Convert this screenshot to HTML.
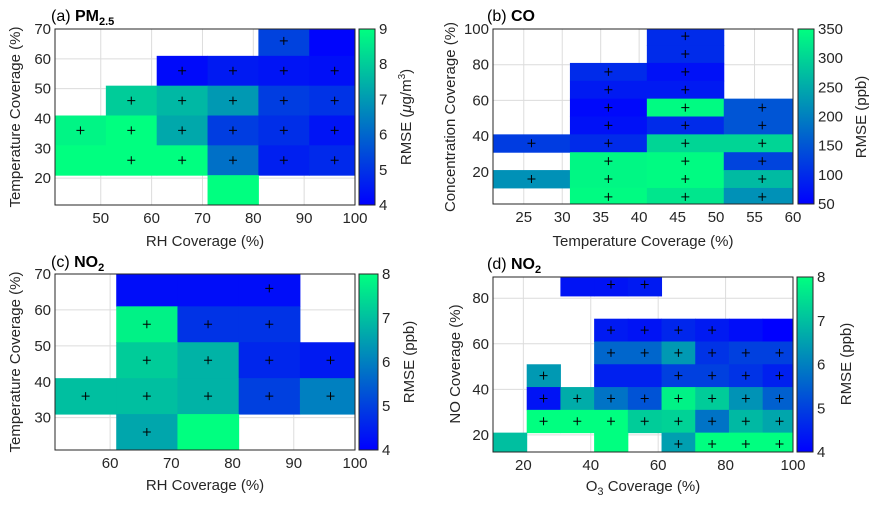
<!DOCTYPE html>
<html><head><meta charset="utf-8">
<style>
html,body{margin:0;padding:0;background:#fff;}
svg{display:block;font-family:"Liberation Sans",sans-serif;}
</style></head>
<body>
<svg id="fig" width="879" height="507" viewBox="0 0 879 507" xmlns="http://www.w3.org/2000/svg"></svg>
<script>
// ---- Panel (a) PM2.5 data ----
const aX = [86,96, 66,76,86,96, 56,66,76,86,96, 46,56,66,76,86,96, 46,56,66,76,86,96, 76];
const aY = [66,66, 56,56,56,56, 46,46,46,46,46, 36,36,36,36,36,36, 26,26,26,26,26,26, 16];
const aV = [5.3,4.1, 4.2,4.5,4.4,4.3, 8.0,7.6,7.0,5.2,5.0, 8.8,9.0,7.3,5.2,4.9,4.4, 9.0,9.0,9.0,6.2,4.6,4.8, 9.0];
const aPlus = [1,0, 1,1,1,1, 1,1,1,1,1, 1,1,1,1,1,1, 0,1,1,1,1,1, 0];
const aXTicks = [50,60,70,80,90,100];
const aYTicks = [20,30,40,50,60,70];
const aCTicks = [4,5,6,7,8,9];
// ---- Panel (b) CO data ----
const bX = [26,26, 36,36,36,36,36,36,36,36, 46,46,46,46,46,46,46,46,46,46, 56,56,56,56,56,56];
const bY = [36,16, 76,66,56,46,36,26,16,6, 96,86,76,66,56,46,36,26,16,6, 56,46,36,26,16,6];
const bV = [120,220, 100,80,60,70,100,340,340,345, 100,100,70,80,345,100,300,345,345,320, 150,150,300,130,270,220];
const bPlus = [1,1, 1,1,1,1,1,1,1,1, 1,1,1,1,1,1,1,1,1,1, 1,1,1,1,1,1];
const bXTicks = [25,30,35,40,45,50,55,60];
const bYTicks = [20,40,60,80,100];
const bCTicks = [50,100,150,200,250,300,350];
// ---- Panel (c) NO2 data ----
const cX = [66,76,86, 66,76,86, 66,76,86,96, 56,66,76,86,96, 66,76];
const cY = [66,66,66, 56,56,56, 46,46,46,46, 36,36,36,36,36, 26,26];
const cV = [4.2,4.2,4.2, 7.8,4.8,4.8, 7.2,6.8,4.6,4.4, 7.0,7.0,6.8,5.0,6.0, 6.6,8.0];
const cPlus = [0,0,1, 1,1,1, 1,1,1,1, 1,1,1,1,1, 1,0];
const cXTicks = [60,70,80,90,100];
const cYTicks = [30,40,50,60,70];
const cCTicks = [4,5,6,7,8];
// ---- Panel (d) NO2 data ----
const dX = [36,46,56, 46,56,66,76,86,96, 46,56,66,76,86,96, 26,46,56,66,76,86,96, 26,36,46,56,66,76,86,96, 26,36,46,56,66,76,86,96, 16,46,66,76,86,96];
const dY = [86,86,86, 66,66,66,66,66,66, 56,56,56,56,56,56, 46,46,46,46,46,46,46, 36,36,36,36,36,36,36,36, 26,26,26,26,26,26,26,26, 16,16,16,16,16,16];
const dV = [4.3,4.3,4.4, 4.4,4.3,4.6,4.4,4.2,4.0, 5.6,5.6,6.4,4.8,5.0,5.0, 6.4,4.5,4.5,5.0,5.0,4.8,4.5, 4.3,6.7,5.8,5.3,7.8,7.2,6.3,5.5, 8.0,8.0,8.0,7.2,7.3,5.8,6.9,6.6, 7.0,8.0,6.5,8.0,8.0,8.0];
const dPlus = [0,1,1, 1,1,1,1,0,0, 1,1,1,1,1,1, 1,0,0,1,1,1,1, 1,1,1,1,1,1,1,1, 1,1,1,1,1,1,1,1, 0,0,1,1,1,1];
const dXTicks = [20,40,60,80,100];
const dYTicks = [20,40,60,80];
const dCTicks = [4,5,6,7,8];

const NS = "http://www.w3.org/2000/svg";
const svg = document.getElementById('fig');
function mk(tag, attrs, parent){
  const e = document.createElementNS(NS, tag);
  for (const k in attrs) e.setAttribute(k, attrs[k]);
  (parent||svg).appendChild(e);
  return e;
}
function cmap(t){
  t = Math.max(0, Math.min(1, t));
  return `rgb(0,${Math.round(255*t)},${Math.round(255-127*t)})`;
}
function panel(p){
  const g = mk('g', {});
  
  
  const sx = v => p.x0 + (v - p.xmin) / (p.xmax - p.xmin) * (p.x1 - p.x0);
  const sy = v => p.y1 - (v - p.ymin) / (p.ymax - p.ymin) * (p.y1 - p.y0);
  p.xt.forEach(t => {
    const l = mk('line', {x1:sx(t), x2:sx(t), y1:p.y0, y2:p.y1, stroke:'#dcdcdc', 'stroke-width':1}, g);
    
    
  });
  p.yt.forEach(t => {
    const l = mk('line', {x1:p.x0, x2:p.x1, y1:sy(t), y2:sy(t), stroke:'#dcdcdc', 'stroke-width':1}, g);
    
    
  });
  for (let i = 0; i < p.X.length; i++){
    const xa = Math.max(p.xmin, p.X[i] - 5), xb = Math.min(p.xmax, p.X[i] + 5);
    const ya = Math.max(p.ymin, p.Y[i] - 5), yb = Math.min(p.ymax, p.Y[i] + 5);
    const r = mk('rect', {x:sx(xa), y:sy(yb), width:sx(xb)-sx(xa)+0.5, height:sy(ya)-sy(yb)+0.5,
      fill:cmap((p.V[i]-p.cmin)/(p.cmax-p.cmin))}, g);
    
    
  }
  for (let i = 0; i < p.X.length; i++){
    if (!p.P[i]) continue;
    const cx = sx(p.X[i]), cy = sy(p.Y[i]);
    const m = mk('path', {d:`M${cx-4},${cy}H${cx+4}M${cx},${cy-4}V${cy+4}`, stroke:'#000', 'stroke-width':1}, g);
    
    
  }
  const bx = mk('rect', {x:p.x0, y:p.y0, width:p.x1-p.x0, height:p.y1-p.y0, fill:'none', stroke:'#262626', 'stroke-width':1}, g);
  
  
  p.xt.forEach(t => {
    const tx = mk('text', {x:sx(t), y:p.y1+18, 'text-anchor':'middle', 'font-size':15, fill:'#262626'}, g);
    tx.textContent = t;
    
    
  });
  p.yt.forEach(t => {
    const ty = mk('text', {x:p.x0-4, y:sy(t)+5, 'text-anchor':'end', 'font-size':15, fill:'#262626'}, g);
    ty.textContent = t;
    
    
  });
  const gid = 'grad-' + p.name;
  const defs = mk('defs', {}, g);
  const lg = mk('linearGradient', {id:gid, x1:0, y1:1, x2:0, y2:0}, defs);
  mk('stop', {offset:0, 'stop-color':cmap(0)}, lg);
  mk('stop', {offset:1, 'stop-color':cmap(1)}, lg);
  const cb = mk('rect', {x:p.cbx, y:p.y0, width:p.cbw, height:p.y1-p.y0, fill:`url(#${gid})`, stroke:'#262626', 'stroke-width':1}, g);
  
  
  p.ct.forEach(t => {
    const y = p.y1 - (t - p.cmin) / (p.cmax - p.cmin) * (p.y1 - p.y0);
    const ct = mk('text', {x:p.cbx+p.cbw+4, y:y+5, 'font-size':15, fill:'#262626'}, g);
    ct.textContent = t;
    
    
  });
}
panel({name:'panel-a-pm25', X:aX, Y:aY, V:aV, P:aPlus, xt:aXTicks, yt:aYTicks, ct:aCTicks,
  x0:55, x1:355, y0:29, y1:205, xmin:41, xmax:100, ymin:11, ymax:70, cmin:4, cmax:9, cbx:359, cbw:16});
panel({name:'panel-b-co', X:bX, Y:bY, V:bV, P:bPlus, xt:bXTicks, yt:bYTicks, ct:bCTicks,
  x0:493, x1:793, y0:29, y1:204, xmin:21, xmax:60, ymin:2, ymax:100, cmin:50, cmax:350, cbx:798, cbw:16});
panel({name:'panel-c-no2', X:cX, Y:cY, V:cV, P:cPlus, xt:cXTicks, yt:cYTicks, ct:cCTicks,
  x0:55, x1:355, y0:274, y1:450, xmin:51, xmax:100, ymin:21, ymax:70, cmin:4, cmax:8, cbx:359, cbw:19});
panel({name:'panel-d-no2', X:dX, Y:dY, V:dV, P:dPlus, xt:dXTicks, yt:dYTicks, ct:dCTicks,
  x0:493, x1:793, y0:277, y1:452, xmin:11, xmax:100, ymin:12.5, ymax:89.3, cmin:4, cmax:8, cbx:797, cbw:16});
</script>
<script>
(function(){
  const NS = "http://www.w3.org/2000/svg";
  const svg = document.getElementById('fig');
  function txt(html, attrs, name){
    const t = document.createElementNS(NS, 'text');
    for (const k in attrs) t.setAttribute(k, attrs[k]);
    t.innerHTML = html;
    
    
    svg.appendChild(t);
  }
  const lab = {'font-size':15, fill:'#262626', 'text-anchor':'middle'};
  txt('(a) <tspan font-weight="bold">PM</tspan><tspan font-weight="bold" font-size="11" dy="4">2.5</tspan>', {x:51, y:21, 'font-size':16, fill:'#000'}, 'panel-a-title');
  txt('(b) <tspan font-weight="bold">CO</tspan>', {x:487, y:21, 'font-size':16, fill:'#000'}, 'panel-b-title');
  txt('(c) <tspan font-weight="bold">NO</tspan><tspan font-weight="bold" font-size="11" dy="4">2</tspan>', {x:51, y:267, 'font-size':16, fill:'#000'}, 'panel-c-title');
  txt('(d) <tspan font-weight="bold">NO</tspan><tspan font-weight="bold" font-size="11" dy="4">2</tspan>', {x:487, y:269, 'font-size':16, fill:'#000'}, 'panel-d-title');
  txt('RH Coverage (%)', Object.assign({x:205, y:246}, lab), 'x-axis-title');
  txt('Temperature Coverage (%)', Object.assign({x:643, y:246}, lab), 'x-axis-title');
  txt('RH Coverage (%)', Object.assign({x:205, y:490}, lab), 'x-axis-title');
  txt('O<tspan font-size="11" dy="4">3</tspan><tspan dy="-4"> Coverage (%)</tspan>', Object.assign({x:643, y:491}, lab), 'x-axis-title');
  txt('Temperature Coverage (%)', Object.assign({x:0, y:0, transform:'translate(20,117) rotate(-90)'}, lab), 'y-axis-title');
  txt('Concentration Coverage (%)', Object.assign({x:0, y:0, transform:'translate(455,117) rotate(-90)'}, lab), 'y-axis-title');
  txt('Temperature Coverage (%)', Object.assign({x:0, y:0, transform:'translate(20,362) rotate(-90)'}, lab), 'y-axis-title');
  txt('NO Coverage (%)', Object.assign({x:0, y:0, transform:'translate(460,364) rotate(-90)'}, lab), 'y-axis-title');
  txt('RMSE (<tspan font-style="italic">μ</tspan>g/m<tspan font-size="10" dy="-6">3</tspan><tspan dy="6">)</tspan>', Object.assign({x:0, y:0, transform:'translate(411,117) rotate(-90)'}, lab), 'colorbar-title');
  txt('RMSE (ppb)', Object.assign({x:0, y:0, transform:'translate(866,117) rotate(-90)'}, lab), 'colorbar-title');
  txt('RMSE (ppb)', Object.assign({x:0, y:0, transform:'translate(414,362) rotate(-90)'}, lab), 'colorbar-title');
  txt('RMSE (ppb)', Object.assign({x:0, y:0, transform:'translate(851,364) rotate(-90)'}, lab), 'colorbar-title');
})();
</script>
</body></html>
